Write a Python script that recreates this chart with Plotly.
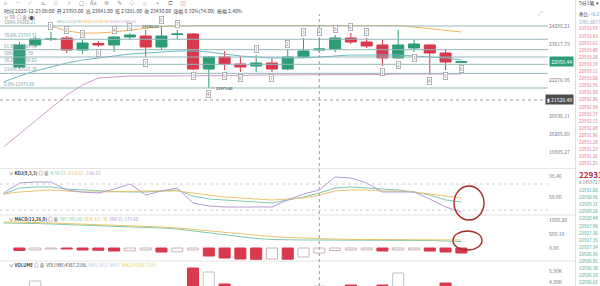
import numpy as np
import plotly.graph_objects as go

W, H = 600, 286
PANE_R = 548          # right edge of the chart panes (px)
BOOK_X = 578          # left edge of the order-book column (px)
FONT = "Noto Sans CJK SC, Noto Sans, sans-serif"

# ---------------- price bars ----------------
bars = list(range(29))
opens = [22759, 23580, 23782, 23841, 23393, 23635, 23580, 23878, 23915, 23505,
         23971, 23990, 22684, 23132, 22871, 22796, 22908, 22684, 23132, 23393,
         23430, 23841, 23691, 23580, 23095, 23468, 23580, 23281, 22935]
highs = [23691, 23878, 24064, 23915, 23766, 23729, 23915, 24027, 24139, 24288.21,
         24139, 24027, 23169, 23356, 23169, 23206, 23095, 23393, 23841, 23841,
         23953, 24027, 23841, 23766, 24139, 23766, 23600, 23393, 22983]
lows = [22684, 23505, 23729, 23281, 23244, 23505, 23318, 23766, 23132, 23393,
        23803, 22647, 21975.60, 22647, 22572, 22572, 22572, 22647, 23095, 23281,
        23318, 23617, 23468, 22796, 23068, 23318, 22461, 22647, 22908]
closes = [23580, 23803, 23803, 23393, 23654, 23580, 23878, 23953, 23505, 23915,
          23990, 22684, 23132, 22871, 22759, 22908, 22684, 23132, 23356, 23430,
          23841, 23691, 23542, 23095, 23580, 23617, 23281, 22945, 22950.44]

# moving averages (first point belongs to the bar before the first visible one)
ma_bars = list(range(-1, 29))
ma5 = [22199.4, 22423.2, 22609.7, 22758.9, 22908.1, 23020.0, 23094.6, 23169.2, 23243.8, 23281.1,
       23318.4, 23355.7, 23355.7, 23318.4, 23243.8, 23169.2, 23131.9, 23094.6, 23094.6, 23094.6,
       23131.9, 23169.2, 23206.5, 23206.5, 23206.5, 23206.5, 23169.2, 23131.9, 23094.6, 23020.0]
ma10 = [None, None, None, 24288.2, 24101.7, 24027.1, 24027.1, 24064.4, 24139.0, 24213.6,
        24269.6, 24288.2, 24306.9, 24306.9, 24306.9, 24306.9, 24306.9, 24306.9, 24306.9, 24306.9,
        24306.9, 24306.9, 24306.9, 24306.9, 24314.3, 24306.9, 24250.9, 24194.9, 24139.0, 24064.4]
ma30 = [19774.9, 20259.8, 20744.7, 21229.6, 21714.5, 22087.5, 22348.6, 22385.9, 22423.2, 22423.2,
        22423.2, 22423.2, 22423.2, 22441.9, 22441.9, 22441.9, 22460.5, 22460.5, 22460.5, 22460.5,
        22460.5, 22479.2, 22479.2, 22479.2, 22479.2, 22497.8, 22497.8, 22497.8, 22497.8, 22497.8]

# Fibonacci retracement between the swing high and swing low
fib_high, fib_low = 24288.21, 21975.60
fib_ratios = [1.0, 0.786, 0.618, 0.5, 0.382, 0.236, 0.0]
fib_names = ["100%", "78.6%", "61.8%", "50%", "38.2%", "23.6%", "0.0%"]

# ---------------- KDJ(9,3,3) ----------------
kdj_k = [56.92, 70.77, 73.08, 73.08, 68.46, 66.15, 63.85, 62.69, 61.54, 61.54,
         63.85, 66.15, 52.31, 45.38, 43.08, 40.77, 38.46, 36.15, 43.08, 50.00,
         59.23, 70.77, 73.08, 70.77, 68.46, 66.15, 61.54, 54.62, 43.08, 38.46]
kdj_d = [56.92, 61.54, 63.85, 66.15, 63.85, 61.54, 61.54, 61.54, 62.69, 63.85,
         63.85, 63.85, 59.23, 54.62, 50.00, 47.69, 45.38, 43.08, 45.38, 47.69,
         54.62, 63.85, 66.15, 66.15, 63.85, 63.85, 61.54, 56.92, 52.31, 47.69]
kdj_j = [59.23, 82.31, 84.62, 84.62, 66.15, 61.54, 59.23, 68.46, 80.00, 54.62,
         63.85, 70.77, 36.15, 29.23, 26.92, 26.92, 26.92, 26.92, 43.08, 56.92,
         66.15, 96.15, 93.85, 82.31, 61.54, 61.54, 61.54, 45.38, 26.92, 15.38]

# ---------------- MACD(12,26,9) ----------------
dif = [892.5, 892.5, 874.7, 856.8, 839.0, 821.1, 803.3, 785.4, 767.6, 749.7,
       714.0, 678.3, 606.9, 535.5, 464.1, 392.7, 339.2, 303.5, 285.6, 285.6,
       285.6, 285.6, 285.6, 285.6, 285.6, 285.6, 267.8, 267.8, 249.9, 232.1]
dea = [928.2, 928.2, 910.4, 892.5, 874.7, 856.8, 839.0, 821.1, 803.3, 785.4,
       749.7, 714.0, 660.5, 606.9, 553.4, 499.8, 446.3, 410.6, 374.9, 357.0,
       321.3, 321.3, 303.5, 303.5, 303.5, 285.6, 285.6, 285.6, 285.6, 285.6]
macd_hist = [-89, -71, -36, -36, -71, -79, -107, -100, -71, -143,
             -136, -71, -286, -357, -393, -403, -393, -400, -321, -179,
             -89, -71, -64, -107, -71, -64, -107, -143, -179]

# ---------------- volume ----------------
volume = [3900, 4900, 3200, 4100, 3600, 2800, 3900, 2600, 4200, 3800,
          2500, 6200, 5800, 4600, 3400, 3100, 3700, 4300, 4100, 4387.2186,
          4000, 4500, 3600, 4500, 5700, 3300, 4200, 4700, 3900]

# ---------------- order book ----------------
asks = ["22933.97", "22933.63", "22933.61", "22933.48", "22933.28", "22933.19", "22933.11",
        "22933.08", "22932.95", "22932.88", "22932.86", "22932.84", "22932.77", "22932.11",
        "22932.08", "22931.96", "22931.28", "22931.27", "22931.26", "22931.25"]
bids = ["22931.06", "22930.96", "22929.37", "22929.26", "22928.44", "22927.96", "22927.36",
        "22927.35", "22927.34", "22926.96", "22926.85", "22926.30", "22926.18", "22926.01"]
last_trade = "22931.4"

# TD-style count boxes: (bar, above?, count)
td_marks = [(2, True, "1"), (3, True, "2"), (4, True, "3"), (5, False, "1"), (6, True, "4"),
            (7, True, "5"), (8, False, "2"), (9, True, "6"), (10, True, "7"), (11, False, "3"),
            (12, False, "4"), (13, False, "5"), (14, False, "6"), (15, True, "1"), (16, False, "7"),
            (17, True, "2"), (18, True, "3"), (19, True, "4"), (20, True, "5"), (21, True, "6"),
            (22, True, "7"), (23, False, "1"), (24, False, "2"), (25, False, "3"), (26, False, "4"),
            (27, False, "5"), (28, False, "6")]

CROSS = 19            # bar under the crosshair
CROSS_PRICE = 21528.4

GREEN, RED = "#2e9c78", "#d9394c"
C_TEAL, C_ORANGE, C_PURPLE = "#6fb9c4", "#f0b45c", "#d49ad0"
C_K, C_D, C_J = "#7ec9b0", "#e9c46a", "#b59bd6"
C_FIB = "#93b7bb"
C_AXIS = "#777777"


def fx(px):
    return px / W


def fy(py):
    return 1 - py / H


def pane(top, bottom):
    return [fy(bottom), fy(top)]


fig = go.Figure()

# main pane
fig.add_trace(go.Candlestick(
    x=bars, open=opens, high=highs, low=lows, close=closes,
    increasing=dict(line=dict(color=GREEN, width=1), fillcolor=GREEN),
    decreasing=dict(line=dict(color=RED, width=1), fillcolor=RED),
    xaxis="x", yaxis="y", hoverinfo="skip"))
for vals, col in ((ma5, C_TEAL), (ma10, C_ORANGE), (ma30, C_PURPLE)):
    fig.add_trace(go.Scatter(x=ma_bars, y=vals, mode="lines", line=dict(color=col, width=1),
                             xaxis="x", yaxis="y", hoverinfo="skip"))

# KDJ pane
for vals, col in ((kdj_k, C_K), (kdj_d, C_D), (kdj_j, C_J)):
    fig.add_trace(go.Scatter(x=ma_bars, y=vals, mode="lines", line=dict(color=col, width=1),
                             xaxis="x2", yaxis="y2", hoverinfo="skip"))

# MACD pane: hollow bar when the histogram shrinks, filled when it grows
hist_fill, hist_line = [], []
for i, v in enumerate(macd_hist):
    grows = i == 0 or v <= macd_hist[i - 1]
    hist_fill.append(RED if grows else "white")
    hist_line.append(RED if grows else "#c9b3b6")
fig.add_trace(go.Bar(x=bars, y=macd_hist, width=0.7,
                     marker=dict(color=hist_fill, line=dict(color=hist_line, width=1)),
                     xaxis="x3", yaxis="y3", hoverinfo="skip"))
fig.add_trace(go.Scatter(x=ma_bars, y=dif, mode="lines", line=dict(color=C_K, width=1),
                         xaxis="x3", yaxis="y3", hoverinfo="skip"))
fig.add_trace(go.Scatter(x=ma_bars, y=dea, mode="lines", line=dict(color=C_D, width=1),
                         xaxis="x3", yaxis="y3", hoverinfo="skip"))

# volume pane: red for falling bars, hollow for rising bars
vol_fill = [RED if c < o else "white" for o, c in zip(opens, closes)]
vol_line = [RED if c < o else "#b9c3cc" for o, c in zip(opens, closes)]
fig.add_trace(go.Bar(x=bars, y=volume, width=0.7,
                     marker=dict(color=vol_fill, line=dict(color=vol_line, width=1)),
                     xaxis="x4", yaxis="y4", hoverinfo="skip"))

xr = [-1.23, 33.49]
xdom = [0, fx(PANE_R)]
xcommon = dict(domain=xdom, range=xr, showticklabels=False, showgrid=False,
               zeroline=False, showline=False, ticks="")
tickfont = dict(size=5, color=C_AXIS, family=FONT)
ycommon = dict(side="right", showgrid=False, zeroline=False, showline=False, ticks="",
               tickfont=tickfont, fixedrange=True)

price_ticks = [24288.21, 23617.79, 22276.95, 20936.11, 20265.69, 19595.27]
vol_ticks = [5900, 4800]

fig.update_layout(
    width=W, height=H, margin=dict(l=0, r=0, t=0, b=0),
    paper_bgcolor="white", plot_bgcolor="white", showlegend=False,
    boxgap=0.3, boxgroupgap=0,
    xaxis=dict(**xcommon, anchor="y", rangeslider=dict(visible=False)),
    xaxis2=dict(**xcommon, anchor="y2", matches="x"),
    xaxis3=dict(**xcommon, anchor="y3", matches="x"),
    xaxis4=dict(**xcommon, anchor="y4", matches="x"),
    yaxis=dict(**ycommon, anchor="x", domain=pane(14, 168), range=[18991.6, 24735.8],
               tickvals=price_ticks, ticktext=[f"{v:.2f}" for v in price_ticks]),
    yaxis2=dict(**ycommon, anchor="x2", domain=pane(169, 215), range=[8.46, 114.6],
                tickvals=[98.46, 50.0], ticktext=["98.46", "50.00"]),
    yaxis3=dict(**ycommon, anchor="x3", domain=pane(215, 261), range=[-464, 1178],
                tickvals=[1000.2, 500.1, 0], ticktext=["1000.20", "500.10", "0.00"]),
    yaxis4=dict(**ycommon, anchor="x4", domain=pane(261, 286), range=[4400, 6900],
                tickvals=vol_ticks, ticktext=[f"{v / 1000:.2f}K" for v in vol_ticks]),
)

shapes = []
ann = []


def txt(x, y, s, size=5, color="#555", anchor="left", **kw):
    d = dict(xref="paper", yref="paper", x=fx(x), y=fy(y), xanchor=anchor, yanchor="middle",
             text=s, showarrow=False, borderpad=0,
             font=dict(size=size, color=color, family=FONT))
    d.update(kw)
    ann.append(d)


# Fibonacci levels
for r, name in zip(fib_ratios, fib_names):
    lvl = fib_low + r * (fib_high - fib_low)
    shapes.append(dict(type="line", xref="paper", yref="y", x0=0, x1=fx(PANE_R), y0=lvl, y1=lvl,
                       line=dict(color=C_FIB, width=1)))
    ann.append(dict(xref="paper", yref="y", x=fx(3), y=lvl, xanchor="left", yanchor="bottom",
                    yshift=0, borderpad=0, text=f"{name} {lvl:.2f}", showarrow=False,
                    font=dict(size=4.5, color="#6f9aa0", family=FONT)))

# swing high / low tags
i_hi = int(np.argmax(highs))
i_lo = int(np.argmin(lows))
ann.append(dict(xref="x", yref="y", x=i_hi, y=highs[i_hi], xanchor="right", yanchor="middle",
                xshift=-1, borderpad=0, text=f"{highs[i_hi]:.2f}", showarrow=False,
                font=dict(size=4, color="#333", family=FONT)))
ann.append(dict(xref="x", yref="y", x=i_lo, y=lows[i_lo], xanchor="left", yanchor="middle",
                xshift=1, borderpad=0, text=f"─ {lows[i_lo]:.2f}", showarrow=False,
                font=dict(size=4, color="#333", family=FONT)))

# TD count boxes
for b, up, n in td_marks:
    ann.append(dict(xref="x", yref="y", x=b, y=highs[b] if up else lows[b],
                    yanchor="bottom" if up else "top", yshift=2 if up else -2,
                    text=n, showarrow=False, bgcolor="white", bordercolor="#9a9a9a",
                    borderwidth=0.7, borderpad=0.3,
                    font=dict(size=4.5, color="#777", family=FONT)))

# pane separators and order-book divider
for py in (168.5, 215, 261):
    shapes.append(dict(type="line", xref="paper", yref="paper", x0=0, x1=fx(575), y0=fy(py), y1=fy(py),
                       line=dict(color="#e4e4e4", width=1)))
shapes.append(dict(type="line", xref="paper", yref="paper", x0=fx(575.5), x1=fx(575.5), y0=0, y1=1,
                   line=dict(color="#dddddd", width=1)))

# KDJ overbought / oversold guides
for lv in (80, 20):
    shapes.append(dict(type="line", xref="paper", yref="y2", x0=0, x1=fx(PANE_R), y0=lv, y1=lv,
                       line=dict(color="#cfcfcf", width=1, dash="dot")))

# crosshair
shapes.append(dict(type="line", xref="x", yref="paper", x0=CROSS, x1=CROSS, y0=0, y1=fy(14),
                   line=dict(color="#9a9a9a", width=1, dash="dot")))
shapes.append(dict(type="line", xref="paper", yref="y", x0=0, x1=fx(PANE_R), y0=CROSS_PRICE,
                   y1=CROSS_PRICE, line=dict(color="#9a9a9a", width=1, dash="dot")))
ann.append(dict(xref="paper", yref="y", x=fx(574), y=CROSS_PRICE, xanchor="right", yanchor="middle",
                text=f"▮ {CROSS_PRICE:.2f}", showarrow=False, bgcolor="#4d4d4d", borderpad=1,
                font=dict(size=5, color="white", family=FONT)))
# last price tag
ann.append(dict(xref="paper", yref="y", x=fx(574), y=closes[-1], xanchor="right", yanchor="middle",
                text=f"{closes[-1]:.2f}", showarrow=False, bgcolor=GREEN, borderpad=1.2,
                font=dict(size=5, color="white", family=FONT)))

# highlight ellipses drawn over the indicators
shapes.append(dict(type="circle", xref="paper", yref="paper", x0=fx(454), x1=fx(484),
                   y0=fy(220), y1=fy(186), line=dict(color="#a52a24", width=1.4)))
shapes.append(dict(type="circle", xref="paper", yref="paper", x0=fx(453), x1=fx(482),
                   y0=fy(250), y1=fy(231), line=dict(color="#a52a24", width=1.4)))

# toolbar
icons = ["⊹", "⋯", "⟋", "⊾", "≡", "⫽", "◻", "Aa", "⊚", "✎", "◇", "⌂", "⌖", "⊏", "◫"]
for k, g in enumerate(icons):
    txt(5 + k * 12.7, 3, g, size=5.5, color="#8a8a8a", anchor="center")

# header line for the crosshair bar
o, h, l, c = opens[CROSS], highs[CROSS], lows[CROSS], closes[CROSS]
pc = closes[CROSS - 1]
chg = c - pc
hdr = (f"时间 2020-12-23 08:00  开 {o:.2f}  高 {h:.2f}  低 {l:.2f}  收 {c:.2f}  "
       f"涨幅 {chg / pc * 100:.2f}%({chg:.2f})  振幅 {(h - l) / pc * 100:.2f}%")
txt(3, 10.8, hdr, size=5, color="#444")
txt(3, 17.2, "∨ T0  ◎ ⊗ (●)", size=4.5, color="#555")
txt(PANE_R - 8, 13, "⤢", size=6, color="#aaaaaa", anchor="center")

# indicator legends (values at the crosshair bar)
m = CROSS + 1
ma_leg = (f"<span style='color:{C_TEAL}'>MA5:{ma5[m]:.2f}</span> "
          f"<span style='color:{C_ORANGE}'>MA10:{ma10[m]:.2f}</span> "
          f"<span style='color:{C_PURPLE}'>MA30:{ma30[m]:.2f}</span>")
txt(56, 22, ma_leg, size=3.8)
kdj_leg = (f"∨ <b>KDJ(9,3,3)</b> ◎ ⊗  <span style='color:{C_K}'>K:{kdj_k[m]:.2f}</span>  "
           f"<span style='color:{C_D}'>D:{kdj_d[m]:.2f}</span>  "
           f"<span style='color:{C_J}'>J:{kdj_j[m]:.2f}</span>")
txt(8, 173.5, kdj_leg, size=4.5, color="#444")
macd_leg = (f"∨ <b>MACD(12,26,9)</b> ◎ ⊗  <span style='color:{C_K}'>DIF:{dif[m]:.2f}</span>  "
            f"<span style='color:{C_D}'>DEA:{dea[m]:.2f}</span>  "
            f"<span style='color:{C_J}'>MACD:{macd_hist[CROSS]:.2f}</span>")
txt(8, 219.5, macd_leg, size=4.5, color="#444")
vma5 = np.mean(volume[CROSS - 4:CROSS + 1])
vma10 = np.mean(volume[CROSS - 9:CROSS + 1])
vol_leg = (f"∨ <b>VOLUME</b> ◎ ⊗  VOLUME:{volume[CROSS]:.4f}  "
           f"<span style='color:#a9c4e0'>MA5:{vma5:.4f}</span>  "
           f"<span style='color:#e6d24e'>MA10:{vma10:.4f}</span>")
txt(8, 265, vol_leg, size=4.5, color="#444")

# order book column
txt(BOOK_X, 3.5, "5分1笔 ▾", size=5, color="#444")
txt(BOOK_X, 14, "委比: <span style='color:#3d8fd6'>+0.27%</span>", size=4.5, color="#333")
txt(BOOK_X, 21.7, "1981.0077", size=4.5, color="#8aa0b8")
for k, s in enumerate(asks):
    txt(BOOK_X, 28.4 + k * 7.1, s, size=4.5, color="#d66a76")
txt(BOOK_X, 174, f"<b>{last_trade}</b>", size=8, color="#b3283a")
txt(BOOK_X, 182, "¥ 145972.5", size=4.5, color="#777")
for k, s in enumerate(bids):
    txt(BOOK_X, 190 + k * 7.1, s, size=4.5, color="#3fa37f")

fig.update_layout(shapes=shapes, annotations=ann)
fig.write_html("out.html")
